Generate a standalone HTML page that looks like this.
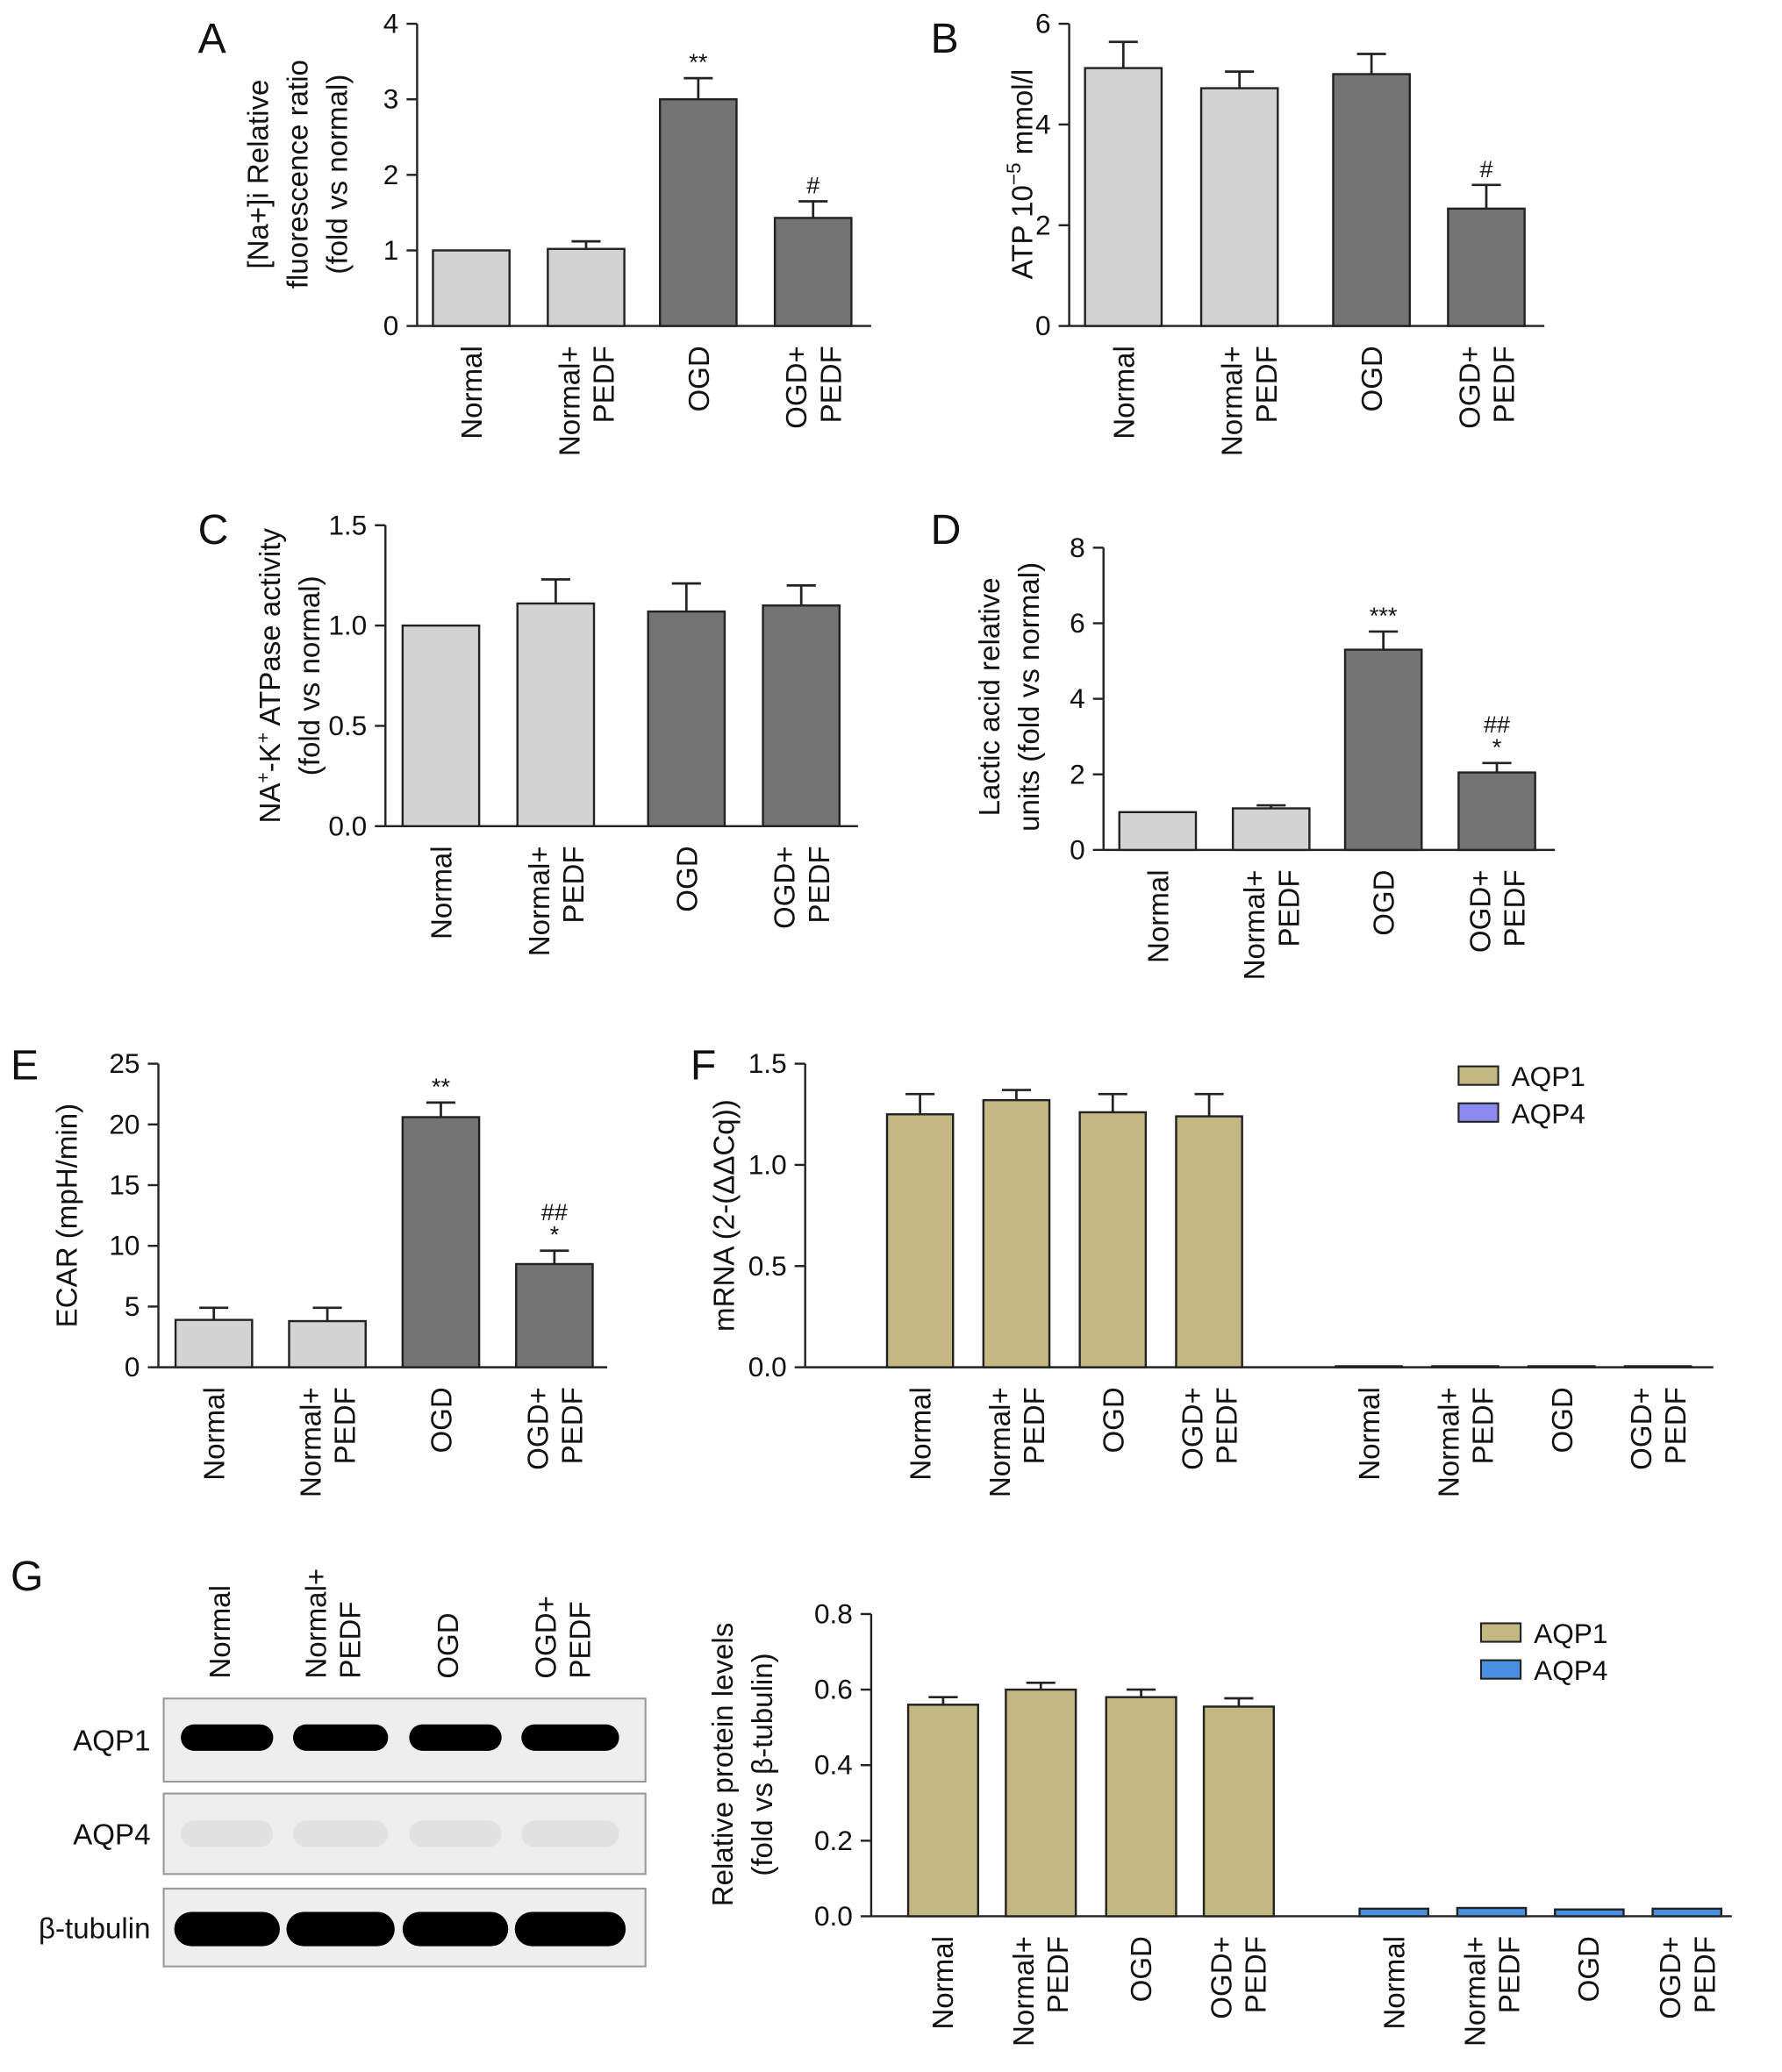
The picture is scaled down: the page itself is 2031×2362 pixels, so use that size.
<!DOCTYPE html>
<html><head><meta charset="utf-8"><style>
html,body{margin:0;padding:0;background:#fff}
svg{display:block}
text{font-family:"Liberation Sans",Arial,sans-serif;fill:#111}
</style></head><body>
<svg id="fig" width="2031" height="2362" viewBox="0 0 1350 1570" preserveAspectRatio="none" xmlns="http://www.w3.org/2000/svg"></svg>
<script>
const NS="http://www.w3.org/2000/svg";
const svg=document.getElementById('fig');
function el(tag,attrs,parent,txt){const e=document.createElementNS(NS,tag);for(const k in attrs)e.setAttribute(k,attrs[k]);if(txt!==undefined)e.textContent=txt;(parent||svg).appendChild(e);return e;}

// ---- data ----
const catLabels=[["Normal"],["Normal+","PEDF"],["OGD"],["OGD+","PEDF"]];
const aValues=[1,1.02,3.0,1.43];
const aErrors=[0,0.1,0.28,0.22];
const aMarks=["","","**","#"];
const aTicks=[0,1,2,3,4];
const bValues=[5.12,4.72,5.0,2.33];
const bErrors=[0.52,0.33,0.4,0.47];
const bMarks=["","","","#"];
const bTicks=[0,2,4,6];
const cValues=[1.0,1.11,1.07,1.1];
const cErrors=[0,0.12,0.14,0.1];
const cMarks=["","","",""];
const cTicks=[0,0.5,1.0,1.5];
const cTickLabels=["0.0","0.5","1.0","1.5"];
const dValues=[1.0,1.1,5.3,2.05];
const dErrors=[0,0.08,0.48,0.25];
const dMarks=["","","***","##\n*"];
const dTicks=[0,2,4,6,8];
const eValues=[3.9,3.8,20.6,8.5];
const eErrors=[1.0,1.1,1.2,1.1];
const eMarks=["","","**","##\n*"];
const eTicks=[0,5,10,15,20,25];
const fAqp1=[1.25,1.32,1.26,1.24];
const fAqp1Err=[0.1,0.05,0.09,0.11];
const fAqp4=[0.005,0.005,0.005,0.005];
const fTicks=[0,0.5,1.0,1.5];
const fTickLabels=["0.0","0.5","1.0","1.5"];
const gAqp1=[0.56,0.60,0.58,0.555];
const gAqp1Err=[0.02,0.018,0.02,0.022];
const gAqp4=[0.02,0.022,0.018,0.02];
const gTicks=[0,0.2,0.4,0.6,0.8];
const gTickLabels=["0.0","0.2","0.4","0.6","0.8"];

const LIGHT="#d3d3d3",DARK="#747474",TAN="#c4b882";

function yScale(y0,y1,max){return v=>y0-(v/max)*(y0-y1);}

function axis(name,ax,y0,y1,xEnd,ticks,tickLabels,max){
  const g=el('g',{});
  
  
  const ys=yScale(y0,y1,max);
  el('line',{x1:ax,y1:y1,x2:ax,y2:y0,stroke:'#222','stroke-width':1.6},g);
  el('line',{x1:ax,y1:y0,x2:xEnd,y2:y0,stroke:'#222','stroke-width':1.6},g);
  ticks.forEach((t,i)=>{
    const y=ys(t);
    el('line',{x1:ax-8,y1:y,x2:ax,y2:y,stroke:'#222','stroke-width':1.6},g);
    const tx=el('text',{x:ax-14,y:y+7,'text-anchor':'end','font-size':21},g,tickLabels?tickLabels[i]:String(t));
    
    
  });
  return ys;
}

function catLabel(name,cx,top,lines,anchor){
  const n=lines.length;
  lines.forEach((ln,j)=>{
    const x=cx+(j-(n-1)/2)*26+8;
    const t=el('text',{x:x,y:top,'text-anchor':anchor||'end','font-size':22,transform:`rotate(-90 ${x} ${top})`},svg,ln);
    
    
  });
}

function bars(name,ys,y0,xs,w,vals,errs,colors,marks){
  vals.forEach((v,i)=>{
    const top=ys(v);
    const r=el('rect',{x:xs[i],y:top,width:w,height:y0-top,fill:colors[i],stroke:'#222','stroke-width':1.6});
    
    
    const cx=xs[i]+w/2;
    if(errs&&errs[i]>0){
      const ey=ys(v+errs[i]);
      const eb=el('path',{d:`M${cx} ${top}V${ey}M${cx-11} ${ey}H${cx+11}`,stroke:'#222','stroke-width':1.8,fill:'none'});
      
      
    }
    if(marks&&marks[i]){
      const ey=ys(v+(errs?errs[i]:0));
      const parts=marks[i].split('\n');
      parts.forEach((p,k)=>{
        const yy=ey-6-(parts.length-1-k)*17;
        const t=el('text',{x:cx,y:yy,'text-anchor':'middle','font-size':18},svg,p);
        
        
      });
    }
  });
}

function ytitle(name,x,cy,lines,size){
  lines.forEach((ln,j)=>{
    const xx=x+j*30;
    const t=el('text',{x:xx,y:cy,'text-anchor':'middle','font-size':size||22,transform:`rotate(-90 ${xx} ${cy})`},svg);
    t.innerHTML=ln;
    
    
  });
}
function plabel(letter,x,y){
  const t=el('text',{x:x,y:y,'font-size':32},svg,letter);
  
  
}
const COL4=[LIGHT,LIGHT,DARK,DARK];

// Panel A
plabel('A',150,40);
let ys=axis('panel-a',316,247,18,660,aTicks,null,4);
bars('panel-a',ys,247,[328,415,500,587],58,aValues,aErrors,COL4,aMarks);
ytitle('panel-a',203,132,['[Na+]i Relative','fluorescence ratio','(fold vs normal)']);
[357,444,529,616].forEach((c,i)=>catLabel('panel-a',c,262,catLabels[i]));

// Panel B
plabel('B',705,40);
ys=axis('panel-b',810,247,18,1170,bTicks,null,6);
bars('panel-b',ys,247,[822,910,1010,1097],58,bValues,bErrors,[LIGHT,LIGHT,DARK,DARK],bMarks);
ytitle('panel-b',782,132,['ATP 10<tspan dy="-9" font-size="15">−5</tspan><tspan dy="9"> mmol/l</tspan>']);
[851,946,1039,1126].forEach((c,i)=>catLabel('panel-b',c,262,catLabels[i]));

// Panel C
plabel('C',150,412);
ys=axis('panel-c',292,626,398,650,cTicks,cTickLabels,1.5);
bars('panel-c',ys,626,[305,392,491,578],58,cValues,cErrors,[LIGHT,LIGHT,DARK,DARK],cMarks);
ytitle('panel-c',212,512,['NA<tspan dy="-8" font-size="14">+</tspan><tspan dy="8">-K</tspan><tspan dy="-8" font-size="14">+</tspan><tspan dy="8"> ATPase activity</tspan>','(fold vs normal)']);
[334,421,520,607].forEach((c,i)=>catLabel('panel-c',c,641,catLabels[i]));

// Panel D
plabel('D',705,412);
ys=axis('panel-d',836,644,415,1178,dTicks,null,8);
bars('panel-d',ys,644,[848,934,1019,1105],58,dValues,dErrors,COL4,dMarks);
ytitle('panel-d',757,528,['Lactic acid relative','units (fold vs normal)']);
[877,963,1048,1134].forEach((c,i)=>catLabel('panel-d',c,659,catLabels[i]));

// Panel E
plabel('E',8,818);
ys=axis('panel-e',120,1036,806,460,eTicks,null,25);
bars('panel-e',ys,1036,[133,219,305,391],58,eValues,eErrors,COL4,eMarks);
ytitle('panel-e',58,921,['ECAR (mpH/min)']);
[162,248,334,420].forEach((c,i)=>catLabel('panel-e',c,1051,catLabels[i]));

// Panel F
plabel('F',523,818);
ys=axis('panel-f',610,1036,806,1298,fTicks,fTickLabels,1.5);
bars('panel-f',ys,1036,[672,745,818,891],50,fAqp1,fAqp1Err,[TAN,TAN,TAN,TAN],null);
bars('panel-f-aqp4',ys,1036,[1012,1085,1158,1231],50,fAqp4,null,["#8a8af0","#8a8af0","#8a8af0","#8a8af0"],null);
ytitle('panel-f',556,921,['mRNA (2-(ΔΔCq))']);
[697,770,843,916,1037,1110,1183,1256].forEach((c,i)=>catLabel('panel-f',c,1051,catLabels[i%4]));
function legend(name,x,y,c1,c2){
  const g=el('g',{});
  
  
  el('rect',{x:x,y:y,width:30,height:14,fill:c1,stroke:'#222','stroke-width':1.4},g);
  el('text',{x:x+40,y:y+15,'font-size':21},g,'AQP1');
  el('rect',{x:x,y:y+28,width:30,height:14,fill:c2,stroke:'#222','stroke-width':1.4},g);
  el('text',{x:x+40,y:y+43,'font-size':21},g,'AQP4');
}
legend('panel-f',1105,808,TAN,'#8a8af0');

// Panel G
plabel('G',8,1205);
ys=axis('panel-g',660,1452,1223,1312,gTicks,gTickLabels,0.8);
bars('panel-g',ys,1452,[688,762,838,912],53,gAqp1,gAqp1Err,[TAN,TAN,TAN,TAN],null);
bars('panel-g-aqp4',ys,1452,[1030,1104,1178,1252],52,gAqp4,null,["#4a90e2","#4a90e2","#4a90e2","#4a90e2"],null);
ytitle('panel-g',555,1337,['Relative protein levels','(fold vs β-tubulin)']);
[714,788,864,938,1056,1130,1203,1278].forEach((c,i)=>catLabel('panel-g',c,1467,catLabels[i%4]));
legend('panel-g',1122,1230,TAN,'#4a90e2');

// Western blot
const blotRows=[{n:'AQP1',y:1287,h:63,band:1},{n:'AQP4',y:1359,h:61,band:0.05},{n:'β-tubulin',y:1431,h:59,band:1}];
const laneX=[172,258,345,432];
const laneW=[66,68,66,70];
const wb=el('g',{});


blotRows.forEach(r=>{
  el('rect',{x:124,y:r.y,width:365,height:r.h,fill:'#eeeeee',stroke:'#999','stroke-width':1.4},wb);
  laneX.forEach((lx,i)=>{
    const tub=r.n==='β-tubulin';
    const hh=tub?26:20;
    const cy=tub?r.y+r.h*0.52:(r.n==='AQP1'?r.y+r.h*0.47:r.y+r.h*0.5);
    const w=laneW[i]+(tub?14:4);
    el('rect',{x:lx-w/2,y:cy-hh/2,width:w,height:hh,rx:hh/2,ry:hh/2,fill:'#000','fill-opacity':r.band},wb);
  });
  const t=el('text',{x:114,y:r.y+r.h/2+8,'text-anchor':'end','font-size':22},svg,r.n);
  
  
});
laneX.forEach((c,i)=>catLabel('blot',c-6,1272,catLabels[i],'start'));
</script>
</body></html>
